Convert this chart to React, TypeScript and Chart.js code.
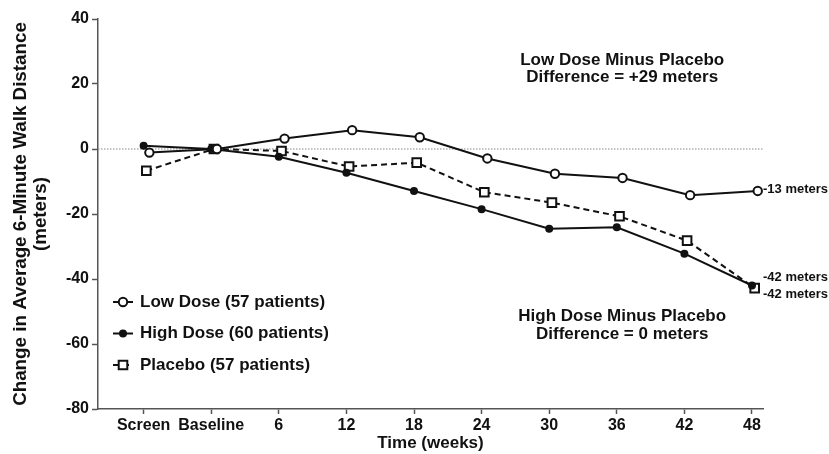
import React, { useEffect, useRef } from 'react';
import { Chart, registerables } from 'chart.js';

Chart.register(...registerables);

// ---- data ----
const categories = ['Screen', 'Baseline', '6', '12', '18', '24', '30', '36', '42', '48'];
const lowDose = [-1.1, 0, 3.2, 5.8, 3.6, -2.9, -7.6, -8.9, -14.2, -12.9];
const highDose = [1.0, 0, -2.4, -7.3, -12.9, -18.5, -24.5, -24.1, -32.2, -42.0];
const placebo = [-6.7, 0, -0.6, -5.4, -4.2, -13.3, -16.5, -20.7, -28.2, -42.8];
const seriesNames = ['Low Dose (57 patients)', 'High Dose (60 patients)', 'Placebo (57 patients)'];
const endLabels = ['-13 meters', '-42 meters', '-42 meters'];
const lowNote = ['Low Dose Minus Placebo', 'Difference = +29 meters'];
const highNote = ['High Dose Minus Placebo', 'Difference = 0 meters'];
const yMin = -80;
const yMax = 40;
const yStep = 20;
const xTitle = 'Time (weeks)';
const yTitle = ['Change in Average 6-Minute Walk Distance', '(meters)'];

// ---- style ----
const FONT = "'Liberation Sans', Arial, Helvetica, sans-serif";
const INK = '#111';
const AXIS = '#555';
const markerKinds = ['open', 'filled', 'square'];
const dodge = [0.085, 0, 0.04];
const endLabelDy = [-2, -8.5, 6];

function drawMarker(ctx: CanvasRenderingContext2D, kind: string, x: number, y: number) {
  ctx.save();
  ctx.setLineDash([]);
  ctx.lineWidth = 2;
  ctx.strokeStyle = INK;
  if (kind === 'open') {
    ctx.fillStyle = '#fff';
    ctx.beginPath();
    ctx.arc(x, y, 4.2, 0, Math.PI * 2);
    ctx.fill();
    ctx.stroke();
  } else if (kind === 'filled') {
    ctx.fillStyle = INK;
    ctx.beginPath();
    ctx.arc(x, y, 4, 0, Math.PI * 2);
    ctx.fill();
  } else {
    ctx.fillStyle = '#fff';
    ctx.beginPath();
    ctx.rect(x - 4.3, y - 4.3, 8.6, 8.6);
    ctx.fill();
    ctx.stroke();
  }
  ctx.restore();
}

const overlayPlugin = {
  id: 'overlay',
  beforeDatasetsDraw(chart: any) {
    const { ctx, chartArea, scales } = chart;
    const y0 = scales.y.getPixelForValue(0);
    ctx.save();
    ctx.strokeStyle = '#888';
    ctx.lineWidth = 1;
    ctx.setLineDash([1.5, 1.5]);
    ctx.beginPath();
    ctx.moveTo(chartArea.left, y0);
    ctx.lineTo(chartArea.right, y0);
    ctx.stroke();
    ctx.restore();
  },
  afterDatasetsDraw(chart: any) {
    const { ctx, chartArea, scales } = chart;
    const { x, y } = scales;
    ctx.save();
    ctx.fillStyle = INK;

    // legend
    ctx.font = `bold 17px ${FONT}`;
    ctx.textAlign = 'left';
    ctx.textBaseline = 'middle';
    chart.data.datasets.forEach((ds: any, i: number) => {
      const rowY = chartArea.top + 283 + i * 31.5;
      const x0 = chartArea.left + 15;
      ctx.save();
      ctx.strokeStyle = INK;
      ctx.lineWidth = 2;
      ctx.setLineDash(ds.borderDash || []);
      ctx.beginPath();
      ctx.moveTo(x0, rowY);
      ctx.lineTo(x0 + 20, rowY);
      ctx.stroke();
      ctx.restore();
      drawMarker(ctx, markerKinds[i], x0 + 10, rowY);
      ctx.fillStyle = INK;
      ctx.fillText(seriesNames[i], x0 + 27, rowY);
    });

    // notes
    ctx.font = `bold 17px ${FONT}`;
    ctx.textAlign = 'center';
    const drawNote = (lines: string[], xv: number, yv: number) => {
      const px = x.getPixelForValue(xv);
      const py = y.getPixelForValue(yv);
      lines.forEach((l, k) => ctx.fillText(l, px, py + k * 17.5));
    };
    drawNote(lowNote, 7.08, 27.4);
    drawNote(highNote, 7.08, -51.6);

    // end labels
    ctx.font = `bold 13px ${FONT}`;
    ctx.textAlign = 'left';
    chart.data.datasets.forEach((ds: any, i: number) => {
      const last = ds.data[ds.data.length - 1];
      const py = y.getPixelForValue(last.y) + endLabelDy[i];
      ctx.fillText(endLabels[i], chartArea.right, py);
    });
    ctx.restore();
  },
};

export default function App() {
  const ref = useRef<HTMLCanvasElement | null>(null);

  useEffect(() => {
    if (!ref.current) return;
    const series = [lowDose, highDose, placebo];
    const mk = (i: number) => series[i].map((v, k) => ({ x: k + dodge[i], y: v }));
    const chart = new Chart(ref.current, {
      type: 'line',
      data: {
        datasets: [
          {
            label: seriesNames[0],
            data: mk(0),
            borderColor: INK,
            borderWidth: 2,
            pointStyle: 'circle',
            pointRadius: 4.2,
            pointBorderWidth: 2,
            pointBackgroundColor: '#fff',
            pointBorderColor: INK,
            tension: 0,
          },
          {
            label: seriesNames[1],
            data: mk(1),
            borderColor: INK,
            borderWidth: 2,
            pointStyle: 'circle',
            pointRadius: 4,
            pointBorderWidth: 0,
            pointBackgroundColor: INK,
            pointBorderColor: INK,
            tension: 0,
          },
          {
            label: seriesNames[2],
            data: mk(2),
            borderColor: INK,
            borderWidth: 2,
            borderDash: [6, 4],
            pointStyle: 'rect',
            pointRadius: 6.1,
            pointBorderWidth: 2,
            pointBackgroundColor: '#fff',
            pointBorderColor: INK,
            tension: 0,
          },
        ],
      },
      options: {
        animation: false,
        responsive: false,
        maintainAspectRatio: false,
        devicePixelRatio: 1,
        layout: { padding: { left: 0, right: 66, top: 19, bottom: 0 } },
        plugins: { legend: { display: false }, tooltip: { enabled: false } },
        scales: {
          x: {
            type: 'linear',
            min: -0.675,
            max: 9.163,
            afterFit: (s: any) => {
              s.height = 45;
            },
            ticks: {
              stepSize: 1,
              includeBounds: false,
              autoSkip: false,
              maxRotation: 0,
              padding: 2,
              color: INK,
              font: { family: FONT, size: 16, weight: 'bold' },
              callback: (v: any) => categories[Math.round(Number(v))] ?? '',
            },
            grid: { display: true, drawOnChartArea: false, drawTicks: true, tickLength: 5, color: AXIS, tickWidth: 1.5 },
            border: { display: true, color: AXIS, width: 1.5 },
            title: {
              display: true,
              text: xTitle,
              color: INK,
              font: { family: FONT, size: 17, weight: 'bold', lineHeight: 1.2 },
              padding: { top: 0, bottom: 0 },
            },
          },
          y: {
            type: 'linear',
            min: yMin,
            max: yMax,
            afterFit: (s: any) => {
              s.width = 98;
            },
            ticks: {
              stepSize: yStep,
              padding: 3,
              color: INK,
              font: { family: FONT, size: 16, weight: 'bold' },
            },
            grid: { display: true, drawOnChartArea: false, drawTicks: true, tickLength: 6, color: AXIS, tickWidth: 1.5 },
            border: { display: true, color: AXIS, width: 1.5 },
            title: {
              display: true,
              text: yTitle,
              color: INK,
              font: { family: FONT, size: 18.8, weight: 'bold', lineHeight: 1.1 },
              padding: { top: 10, bottom: 0 },
            },
          },
        },
      },
      plugins: [overlayPlugin],
    } as any);
    return () => chart.destroy();
  }, []);

  return (
    <div style={{ position: 'absolute', left: 0, top: 0, width: 829, height: 454, background: '#fff' }}>
      <canvas ref={ref} width={829} height={454} style={{ display: 'block', width: 829, height: 454 }} />
    </div>
  );
}
